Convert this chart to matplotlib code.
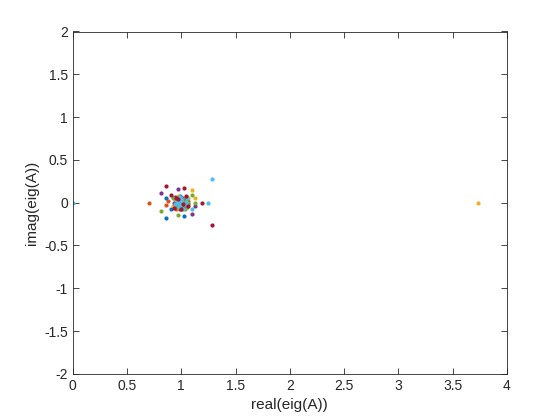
import numpy as np
import matplotlib
matplotlib.use("Agg")
import matplotlib.pyplot as plt

# MATLAB default colour order
colors = ["#0072BD", "#D95319", "#EDB120", "#7E2F8E", "#77AC30", "#4DBEEE", "#A2142F"]

# eigenvalues, one group per colour
re_blue = [0.862, 0.905, 0.862, 1.027, 0.95, 1.00, 1.04, 0.97, 1.06, 0.99, 1.02, 0.94, 1.05, 0.98,
           1.01, 0.96, 1.03, 0.99]
im_blue = [-0.18, -0.074, 0.05, -0.16, 0.03, -0.05, 0.07, -0.06, -0.02, 0.08, 0.01, -0.02, 0.04, 0.00,
           -0.03, 0.05, -0.06, 0.02]

re_orange = [0.70, 0.862, 0.88, 0.93, 1.01, 0.96, 1.05, 0.99, 1.03, 0.95, 1.00, 1.06, 0.97, 1.02]
im_orange = [0.0, -0.03, 0.02, 0.06, -0.08, -0.04, -0.05, 0.05, 0.03, -0.07, 0.01, 0.02, 0.0, -0.02]

re_yellow = [3.73, 1.098, 1.125, 0.92, 0.97, 1.04, 1.00, 0.95, 1.06, 1.02, 0.98, 1.01]
im_yellow = [0.0, 0.144, 0.05, -0.04, 0.08, -0.06, -0.03, 0.02, 0.05, 0.06, -0.08, 0.03]

re_purple = [0.81, 0.966, 1.125, 1.098, 0.94, 0.99, 1.04, 1.01, 0.96, 1.05, 0.93, 0.98, 1.02]
im_purple = [0.11, 0.16, -0.04, -0.13, 0.07, -0.07, 0.03, 0.05, -0.03, -0.04, 0.0, 0.03, -0.01]

re_green = [0.81, 1.10, 1.125, 0.966, 0.92, 0.98, 1.03, 1.00, 0.95, 1.06, 1.01, 0.97, 1.04]
im_green = [-0.10, 0.094, 0.0, -0.144, 0.05, 0.07, -0.07, -0.03, -0.01, 0.0, 0.04, -0.05, 0.02]

re_cyan = [0.0, 1.287, 1.245, 1.10, 0.96, 1.00, 1.03, 0.98, 1.05, 0.94, 1.01, 0.99, 1.02,
           0.97, 1.00, 1.04, 0.99]
im_cyan = [0.0, 0.28, 0.0, -0.074, 0.02, 0.04, -0.02, -0.05, 0.06, -0.01, 0.0, 0.07, -0.07,
           0.0, -0.02, 0.01, 0.03]

re_dred = [0.862, 1.027, 1.287, 1.19, 0.905, 0.93, 1.04, 0.97, 1.00, 1.06, 0.95, 1.02]
im_dred = [0.20, 0.175, -0.265, 0.0, 0.094, -0.06, 0.08, 0.04, -0.08, -0.04, 0.06, -0.01]

groups = [(re_blue, im_blue), (re_orange, im_orange), (re_yellow, im_yellow),
          (re_purple, im_purple), (re_green, im_green), (re_cyan, im_cyan),
          (re_dred, im_dred)]

plt.rcParams["font.family"] = ["Liberation Sans", "DejaVu Sans"]

fig = plt.figure(figsize=(5.6, 4.2), dpi=100)
ax = fig.add_axes([0.13, 0.11, 0.775, 0.815])

for (re, im), c in zip(groups, colors):
    ax.plot(re, im, ".", color=c, markersize=4, linestyle="none")

ax.set_xlim(0, 4)
ax.set_ylim(-2, 2)
ax.set_xticks(np.arange(0, 4.01, 0.5))
ax.set_yticks(np.arange(-2, 2.01, 0.5))
ax.set_xticklabels(["0", "0.5", "1", "1.5", "2", "2.5", "3", "3.5", "4"])
ax.set_yticklabels(["-2", "-1.5", "-1", "-0.5", "0", "0.5", "1", "1.5", "2"])
ax.tick_params(direction="in", top=True, right=True, length=4, width=0.6,
               labelsize=10, colors="#262626")
for s in ax.spines.values():
    s.set_color("#262626")
    s.set_linewidth(0.6)
ax.set_xlabel("real(eig(A))", fontsize=11, color="#262626")
ax.set_ylabel("imag(eig(A))", fontsize=11, color="#262626")

fig.savefig("out.png", dpi=100)
